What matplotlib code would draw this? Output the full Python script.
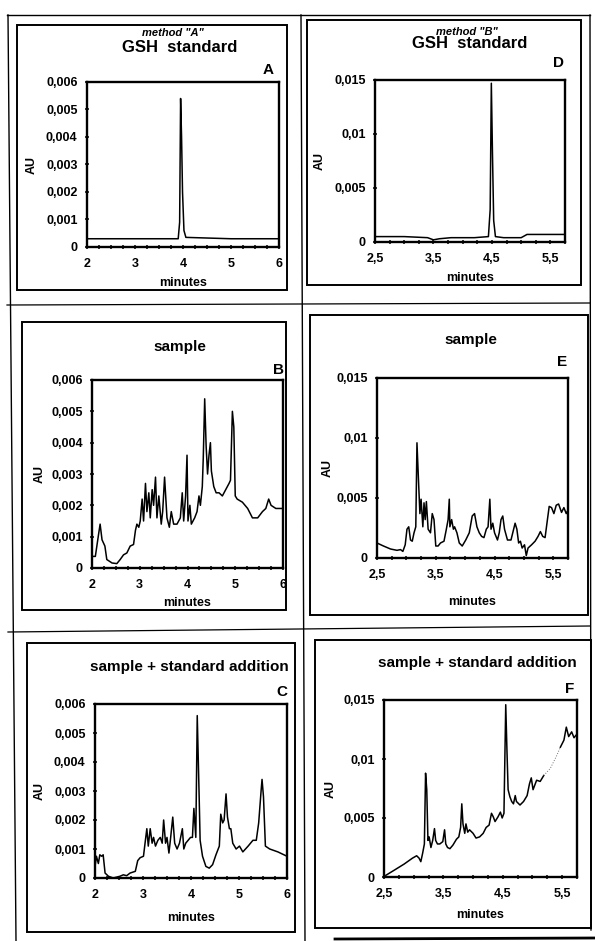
import matplotlib

matplotlib.use("Agg")
import matplotlib.pyplot as plt
from matplotlib.lines import Line2D
from matplotlib.patches import Rectangle

plt.rcParams["font.family"] = ["Liberation Sans", "DejaVu Sans"]
plt.rcParams["font.weight"] = "bold"

W, H = 595, 941

# --- data (minutes, AU) ---------------------------------------------------- #
a_x = [2.0, 3.0, 3.9, 3.93, 3.95, 3.97, 3.99, 4.02, 4.06, 5.0, 6.0]
a_y = [0.0003, 0.0003, 0.0003, 0.0009, 0.0054, 0.0040, 0.0020, 0.0006, 0.00035, 0.0003, 0.0003]

b_x = [2.0, 2.07, 2.14, 2.17, 2.21, 2.27, 2.31, 2.42, 2.52, 2.59, 2.66, 2.73, 2.80,
       2.87, 2.91, 2.94, 2.98, 3.01, 3.05, 3.08, 3.12, 3.15, 3.19, 3.22, 3.26, 3.29,
       3.33, 3.36, 3.40, 3.45, 3.48, 3.52, 3.57, 3.62, 3.66, 3.71, 3.78, 3.85, 3.89,
       3.92, 3.96, 3.99, 4.01, 4.05, 4.08, 4.15, 4.20, 4.24, 4.27, 4.31, 4.33, 4.36,
       4.39, 4.42, 4.45, 4.48, 4.50, 4.55, 4.60, 4.66, 4.73, 4.80, 4.87, 4.90, 4.94,
       4.97, 5.00, 5.04, 5.15, 5.26, 5.36, 5.47, 5.57, 5.64, 5.70, 5.75, 5.85, 6.0]
b_y = [0.00037, 0.00037, 0.0011, 0.0014, 0.0009, 0.0007, 0.00027, 0.00016, 0.00014,
       0.00027, 0.00042, 0.00048, 0.0007, 0.00075, 0.0012, 0.0014, 0.0013, 0.0015,
       0.0022, 0.0015, 0.0027, 0.0018, 0.0024, 0.0016, 0.0025, 0.0020, 0.0029, 0.0016,
       0.0023, 0.0014, 0.0018, 0.0029, 0.0016, 0.0013, 0.0018, 0.0014, 0.0014, 0.0016,
       0.0024, 0.0015, 0.0023, 0.0036, 0.0015, 0.0020, 0.0014, 0.0016, 0.0018, 0.0023,
       0.0020, 0.0026, 0.0035, 0.0054, 0.0039, 0.0030, 0.0036, 0.0040, 0.0031, 0.0026,
       0.0024, 0.0024, 0.0023, 0.0025, 0.0027, 0.0028, 0.0050, 0.0045, 0.0023, 0.0022,
       0.0021, 0.0019, 0.0016, 0.0016, 0.0018, 0.0019, 0.0022, 0.0020, 0.0019, 0.0019]

c_x = [2.0, 2.03, 2.07, 2.10, 2.14, 2.17, 2.21, 2.28, 2.38, 2.52, 2.59, 2.66, 2.73,
       2.84, 2.89, 2.94, 3.01, 3.05, 3.08, 3.11, 3.15, 3.19, 3.22, 3.26, 3.31, 3.36,
       3.40, 3.43, 3.47, 3.50, 3.54, 3.57, 3.62, 3.66, 3.71, 3.76, 3.82, 3.85, 3.89,
       3.94, 3.99, 4.03, 4.06, 4.10, 4.13, 4.17, 4.19, 4.24, 4.31, 4.38, 4.45, 4.52,
       4.59, 4.62, 4.66, 4.69, 4.73, 4.76, 4.80, 4.83, 4.87, 4.94, 5.01, 5.08, 5.19,
       5.29, 5.36, 5.41, 5.46, 5.48, 5.51, 5.55, 5.64, 5.81, 6.0]
c_y = [0.0004, 0.00075, 0.0005, 0.0008, 0.00075, 0.0008, 0.00017, 0.00006, 0.0,
       0.00006, 0.00011, 0.00008, 0.00017, 0.00023, 0.0006, 0.0007, 0.00075, 0.0013,
       0.0017, 0.0011, 0.0017, 0.0012, 0.0014, 0.0011, 0.0013, 0.0014, 0.0012, 0.0020,
       0.0012, 0.0014, 0.00086, 0.0013, 0.0021, 0.0012, 0.0010, 0.0012, 0.0017, 0.0010,
       0.0012, 0.0013, 0.0014, 0.0014, 0.0024, 0.0014, 0.0056, 0.0028, 0.0013, 0.00075,
       0.0004, 0.00034, 0.00046, 0.0008, 0.0011, 0.0022, 0.0019, 0.0020, 0.0029, 0.0021,
       0.0017, 0.0017, 0.0012, 0.0010, 0.0011, 0.0009, 0.0011, 0.0013, 0.0013, 0.0019,
       0.0030, 0.0034, 0.0028, 0.0011, 0.0010, 0.0009, 0.00075]

d_x = [2.5, 3.0, 3.4, 3.5, 3.6, 3.8, 4.2, 4.44, 4.47, 4.49, 4.51, 4.53, 4.56, 4.7,
       5.0, 5.1, 5.4, 5.75]
d_y = [0.0005, 0.0005, 0.0004, 0.0002, 0.0003, 0.0004, 0.0004, 0.0005, 0.003, 0.0147,
       0.008, 0.002, 0.0005, 0.0004, 0.0004, 0.0007, 0.0007, 0.0007]

e_x = [2.5, 2.61, 2.73, 2.84, 2.90, 2.94, 2.98, 3.01, 3.04, 3.07, 3.10, 3.13, 3.16,
       3.18, 3.21, 3.23, 3.25, 3.28, 3.30, 3.32, 3.34, 3.37, 3.41, 3.44, 3.47, 3.50,
       3.54, 3.58, 3.64, 3.68, 3.71, 3.73, 3.74, 3.77, 3.80, 3.82, 3.86, 3.90, 3.95,
       4.01, 4.07, 4.12, 4.16, 4.20, 4.24, 4.28, 4.32, 4.36, 4.39, 4.42, 4.44, 4.47,
       4.50, 4.55, 4.58, 4.61, 4.64, 4.67, 4.72, 4.78, 4.81, 4.85, 4.88, 4.91, 4.94,
       4.97, 5.01, 5.04, 5.07, 5.13, 5.19, 5.24, 5.28, 5.32, 5.36, 5.40, 5.43, 5.47,
       5.51, 5.55, 5.59, 5.64, 5.68, 5.72, 5.75]
e_y = [0.00125, 0.0010, 0.00075, 0.00064, 0.0007, 0.00055, 0.0011, 0.0024, 0.0026,
       0.0015, 0.0014, 0.0021, 0.0026, 0.0096, 0.0060, 0.0037, 0.0049, 0.0026, 0.0046,
       0.0032, 0.0047, 0.0024, 0.0021, 0.0037, 0.0032, 0.0010, 0.0010, 0.00125, 0.0014,
       0.0024, 0.0032, 0.0049, 0.0026, 0.0032, 0.0024, 0.0026, 0.0021, 0.00125, 0.0010,
       0.0015, 0.0021, 0.0035, 0.0037, 0.0026, 0.0021, 0.0018, 0.0017, 0.0024, 0.0026,
       0.0049, 0.0024, 0.0029, 0.0021, 0.0015, 0.0021, 0.0032, 0.0035, 0.0024, 0.0015,
       0.0015, 0.0021, 0.0029, 0.0024, 0.00125, 0.0014, 0.00083, 0.0011, 0.0002,
       0.00083, 0.0011, 0.0014, 0.0018, 0.0022, 0.0018, 0.0017, 0.0032, 0.0043, 0.0042,
       0.0037, 0.0044, 0.0045, 0.0038, 0.0042, 0.0037, 0.0040]

f_x = [2.53, 2.67, 2.84, 2.98, 3.05, 3.09, 3.12, 3.15, 3.18, 3.20, 3.22, 3.24, 3.26,
       3.29, 3.32, 3.35, 3.37, 3.40, 3.44, 3.49, 3.52, 3.54, 3.57, 3.61, 3.66, 3.72,
       3.76, 3.79, 3.81, 3.83, 3.86, 3.88, 3.91, 3.94, 4.00, 4.05, 4.11, 4.17, 4.22,
       4.27, 4.31, 4.34, 4.37, 4.42, 4.46, 4.49, 4.52, 4.55, 4.57, 4.59, 4.62, 4.65,
       4.68, 4.71, 4.73, 4.79, 4.85, 4.91, 4.95, 4.98, 5.01, 5.04, 5.07, 5.13, 5.19]
f_y = [0.00014, 0.00057, 0.0011, 0.0016, 0.0018, 0.0016, 0.0013, 0.0020, 0.0028,
       0.0088, 0.0074, 0.0031, 0.0034, 0.0025, 0.0031, 0.0041, 0.0031, 0.0028, 0.0028,
       0.0030, 0.0040, 0.0028, 0.0025, 0.0024, 0.0027, 0.0032, 0.0034, 0.0042, 0.0062,
       0.0045, 0.0037, 0.0045, 0.0038, 0.0040, 0.0037, 0.0033, 0.0034, 0.0037, 0.0042,
       0.0044, 0.0054, 0.0051, 0.0047, 0.0051, 0.0055, 0.0050, 0.0054, 0.0146, 0.0108,
       0.0074, 0.0068, 0.0064, 0.0062, 0.0069, 0.0064, 0.0061, 0.0064, 0.0069, 0.0079,
       0.0084, 0.0074, 0.0078, 0.0082, 0.0081, 0.0086]
# faint (poorly printed) stretch at the end of trace F
f_faint_x = [5.19, 5.30, 5.40, 5.47]
f_faint_y = [0.0086, 0.0092, 0.0102, 0.0110]
f_end_x = [5.47, 5.53, 5.57, 5.61, 5.66, 5.70, 5.73]
f_end_y = [0.0110, 0.0116, 0.0127, 0.0119, 0.0123, 0.0118, 0.0120]

# axis ticks / labels
ticks_a = [2, 3, 4, 5, 6]
ticks_b = [2.5, 3.5, 4.5, 5.5]
xlabels_a = ["2", "3", "4", "5", "6"]
xlabels_b = ["2,5", "3,5", "4,5", "5,5"]
yticks_a = [0, 0.001, 0.002, 0.003, 0.004, 0.005, 0.006]
ylabels_a = ["0", "0,001", "0,002", "0,003", "0,004", "0,005", "0,006"]
yticks_b = [0, 0.005, 0.01, 0.015]
ylabels_b = ["0", "0,005", "0,01", "0,015"]


def fx(px):
    return px / W


def fy(py):
    return 1 - py / H


def frame_line(fig, x0, y0, x1, y1, lw=1.0):
    fig.add_artist(Line2D([fx(x0), fx(x1)], [fy(y0), fy(y1)], color="black", lw=lw))


def panel(fig, box, axbox, method_y, series, letter, title, title_y, letter_xy,
          minutes_y, au_x, method=None, title_size=11):
    # box around the whole panel
    bl, bt, br, bb = box
    fig.add_artist(Rectangle((fx(bl), fy(bb)), (br - bl) / W, (bb - bt) / H,
                             fill=False, ec="black", lw=1.4))
    left, top, right, bottom = axbox
    ax = fig.add_axes([fx(left), fy(bottom), (right - left) / W, (bottom - top) / H])

    xs, ys, xt, xl, yt, yl, xlim = series
    for x, y, kw in zip(xs, ys, [dict(lw=1.1), dict(lw=0.7, ls=":", color="0.45"),
                                 dict(lw=1.1)]):
        kw.setdefault("color", "black")
        ax.plot(x, y, **kw)

    ax.set_xlim(*xlim)
    ax.set_ylim(yt[0], yt[-1])
    ax.set_xticks(xt)
    ax.set_xticklabels(xl)
    minor = [xlim[0] + 0.25 * i for i in range(int(round((xlim[1] - xlim[0]) / 0.25)) + 1)]
    ax.set_xticks(minor, minor=True)
    ax.set_yticks(yt)
    ax.set_yticklabels(yl)
    ax.tick_params(axis="both", which="both", direction="inout", length=3.5,
                   width=1.1, labelsize=9, pad=5)
    ax.tick_params(axis="x", pad=6)
    for s in ax.spines.values():
        s.set_linewidth(1.7)

    cx = (left + right) / 2
    fig.text(fx(cx), fy(minutes_y), "minutes", ha="center", va="center", fontsize=9)
    fig.text(fx(au_x), fy((top + bottom) / 2), "AU", ha="center", va="center",
             rotation=90, fontsize=9)
    fig.text(fx(title[1]), fy(title_y), title[0], ha="center", va="center",
             fontsize=title_size)
    fig.text(fx(letter_xy[0]), fy(letter_xy[1]), letter, ha="center", va="center",
             fontsize=11)
    if method:
        fig.text(fx(method[1]), fy(method_y), method[0], ha="center", va="center",
                 fontsize=8, style="italic")
    return ax


def main():
    fig = plt.figure(figsize=(W / 100, H / 100), dpi=100)

    # scanned grid that separates the six panels
    frame_line(fig, 7, 15, 590, 15)
    frame_line(fig, 8, 15, 16, 941)
    frame_line(fig, 590, 15, 591, 930)
    frame_line(fig, 301, 15, 305, 941)
    frame_line(fig, 7, 305, 590, 303, lw=0.9)
    frame_line(fig, 8, 632, 590, 626, lw=0.9)
    frame_line(fig, 335, 939, 595, 938, lw=2.0)

    lim_a = (2, 6)
    lim_b = (2.5, 5.75)

    panel(fig, (17, 25, 287, 290), (87, 82, 279, 247), 33,
          ([a_x], [a_y], ticks_a, xlabels_a, yticks_a, ylabels_a, lim_a),
          "A", ("GSH  standard", 180), 47, (268, 70), 283, 32,
          method=('method "A"', 173), title_size=12)
    panel(fig, (307, 20, 581, 285), (375, 80, 565, 242), 32,
          ([d_x], [d_y], ticks_b, xlabels_b, yticks_b, ylabels_b, lim_b),
          "D", ("GSH  standard", 470), 43, (558, 63), 278, 320,
          method=('method "B"', 467), title_size=12)
    panel(fig, (22, 322, 286, 610), (92, 380, 283, 568), None,
          ([b_x], [b_y], ticks_a, xlabels_a, yticks_a, ylabels_a, lim_a),
          "B", ("sample", 180), 347, (278, 370), 603, 40)
    panel(fig, (310, 315, 588, 615), (377, 378, 568, 558), None,
          ([e_x], [e_y], ticks_b, xlabels_b, yticks_b, ylabels_b, lim_b),
          "E", ("sample", 471), 340, (562, 362), 602, 328)
    panel(fig, (27, 643, 295, 932), (95, 704, 287, 878), None,
          ([c_x], [c_y], ticks_a, xlabels_a, yticks_a, ylabels_a, lim_a),
          "C", ("sample + standard addition", 189), 667, (282, 692), 918, 40)
    panel(fig, (315, 640, 591, 928), (384, 700, 577, 877), None,
          ([f_x, f_faint_x, f_end_x], [f_y, f_faint_y, f_end_y],
           ticks_b, xlabels_b, yticks_b, ylabels_b, lim_b),
          "F", ("sample + standard addition", 477), 663, (570, 689), 915, 331)

    fig.savefig("out.png", dpi=100)
    plt.close(fig)


if __name__ == "__main__":
    main()
